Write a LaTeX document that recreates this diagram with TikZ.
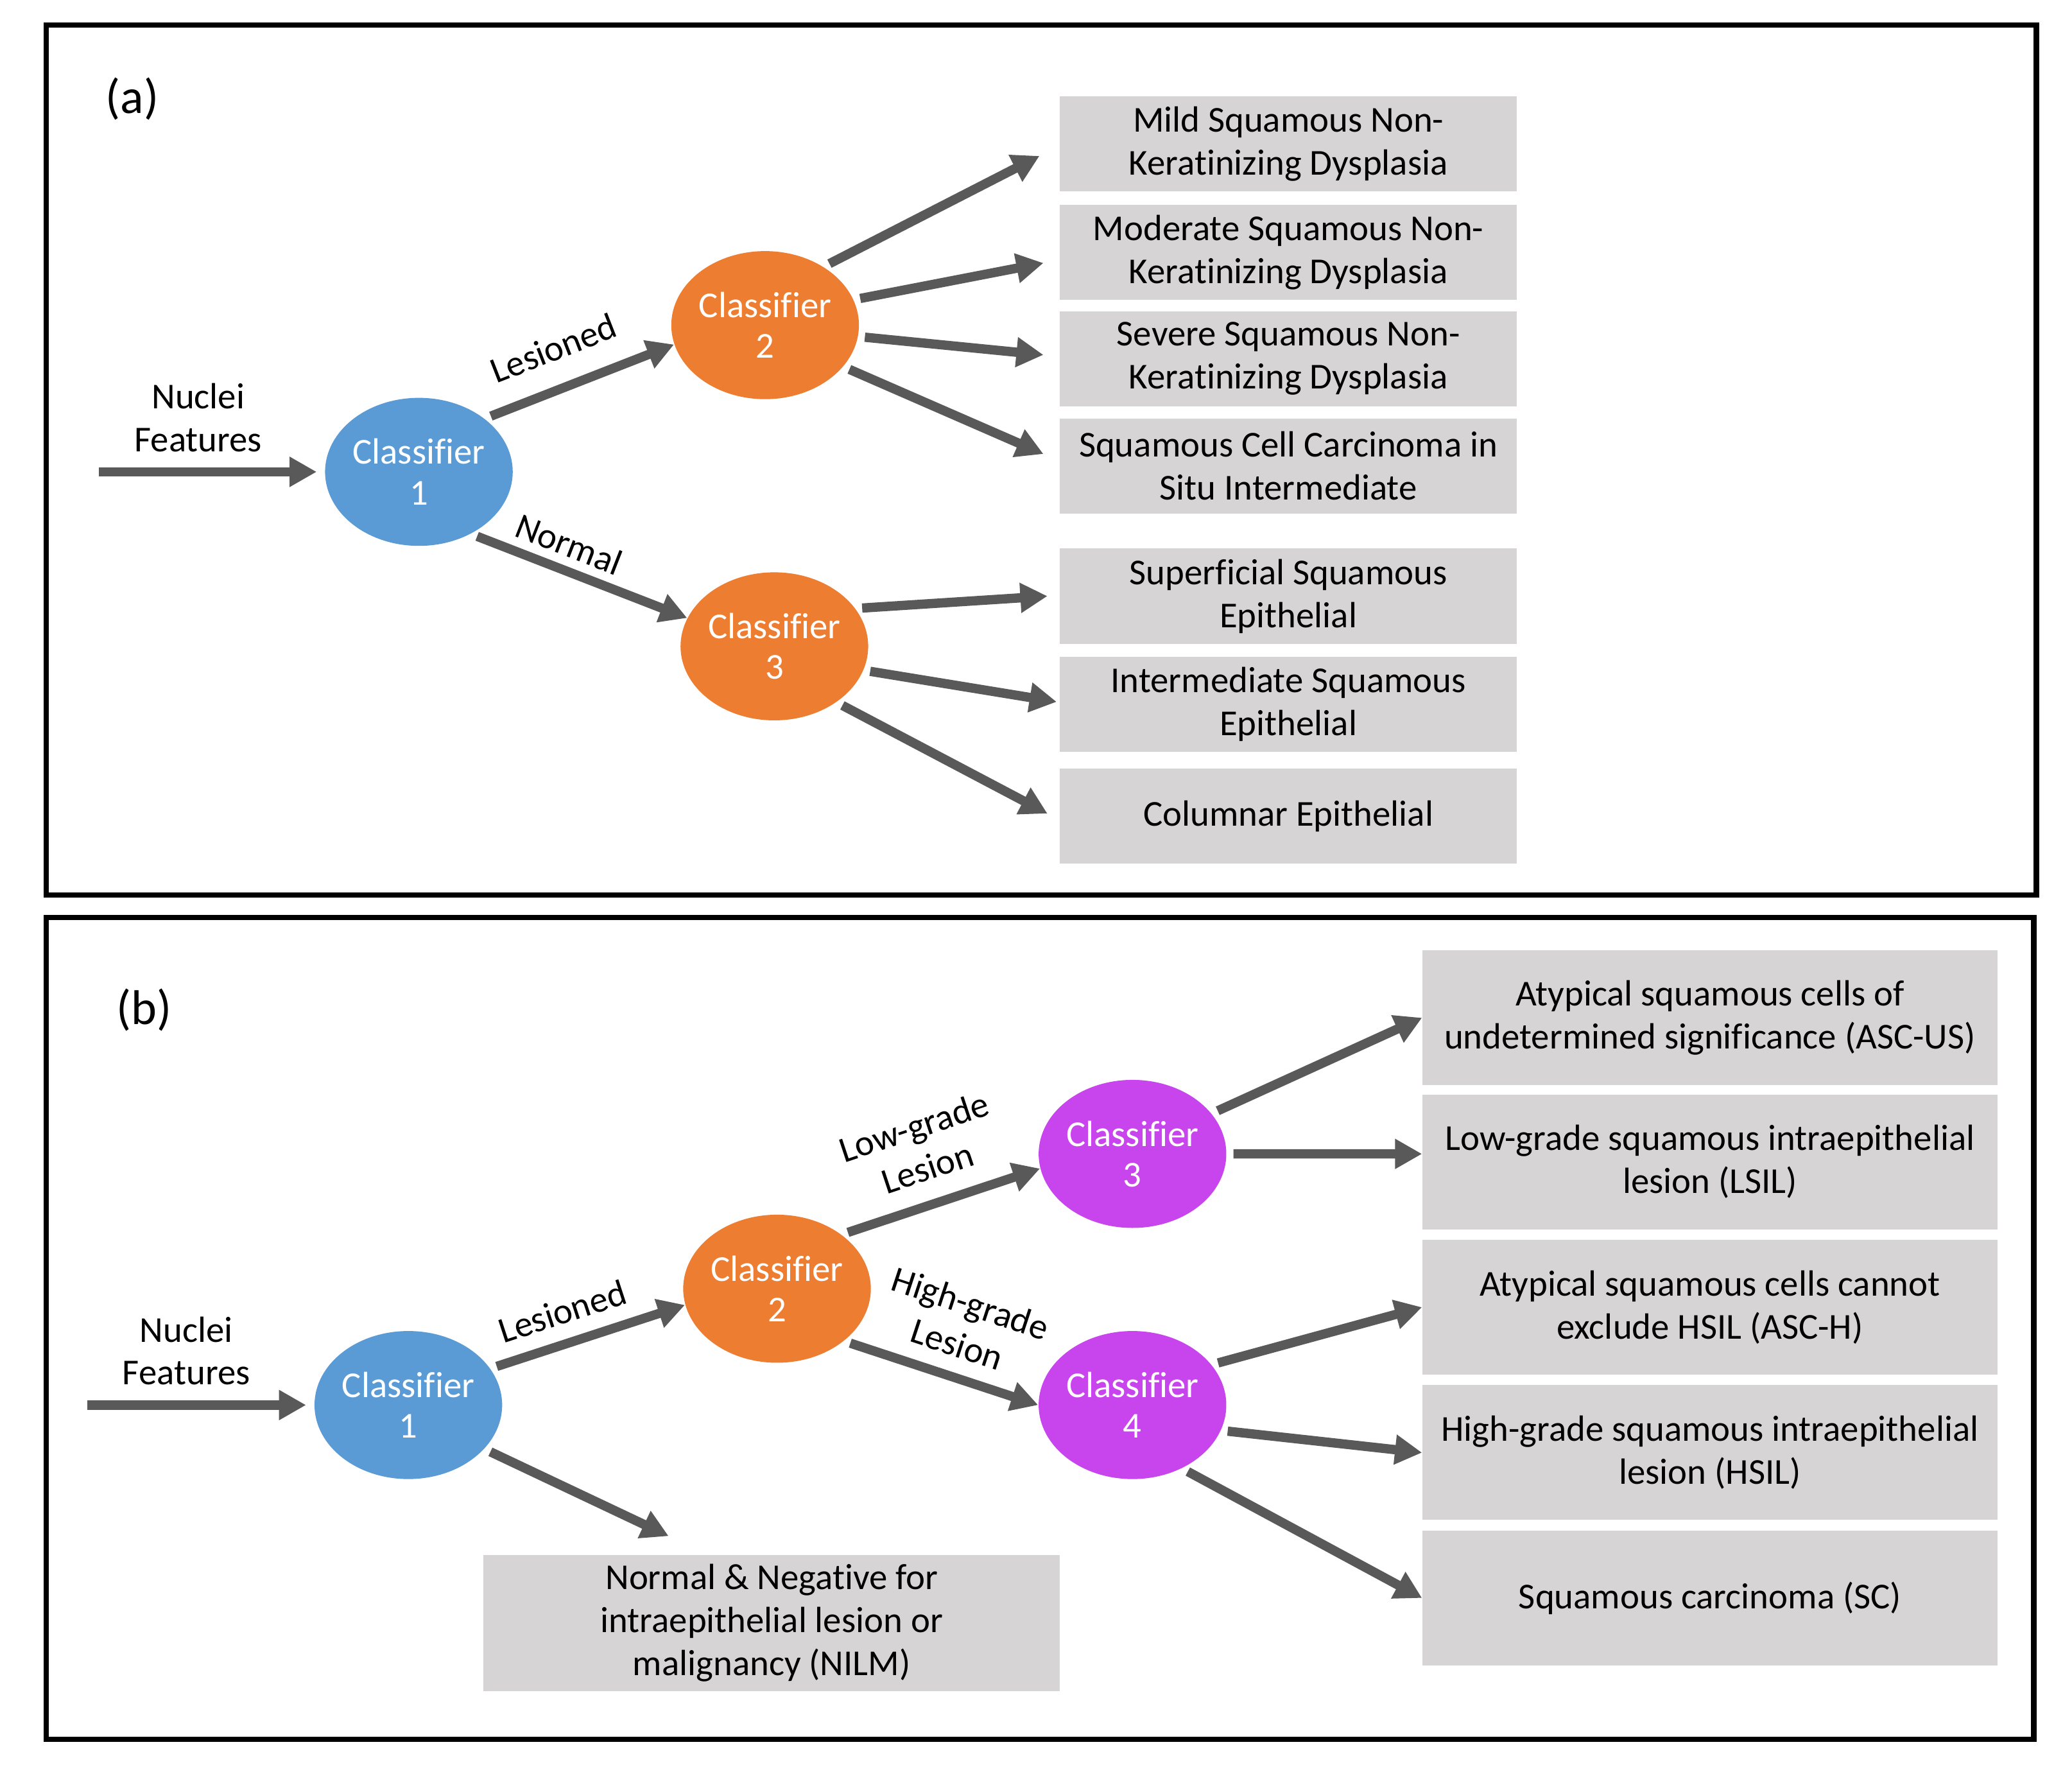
\documentclass[tikz,border=0pt]{standalone}
\usepackage{fontspec}
\setmainfont[Ligatures=NoCommon]{Carlito}
\usetikzlibrary{arrows.meta,positioning,shapes.geometric}
\definecolor{cblue}{RGB}{91,155,213}
\definecolor{corange}{RGB}{237,125,49}
\definecolor{cpurple}{RGB}{200,68,236}
\definecolor{cbox}{RGB}{214,212,213}
\definecolor{carrow}{RGB}{89,89,89}
\newcommand{\txtsize}{\fontsize{15.7}{18.5}\selectfont}
\tikzset{
  cls/.style={ellipse, minimum width=2.84cm, minimum height=2.24cm, inner sep=0pt,
    text=white, align=center, font=\fontsize{15.7}{17.5}\selectfont},
  obox/.style={rectangle, fill=cbox, minimum width=6.92cm, minimum height=1.44cm,
    inner sep=0pt, align=center, font=\txtsize},
  wbox/.style={obox, minimum width=8.70cm, minimum height=2.04cm},
  flow/.style={-{Triangle[length=0.41cm,width=0.43cm]}, carrow, line width=4pt,
    shorten <=0.1cm},
  elab/.style={font=\txtsize, text=black, inner sep=0pt, sloped, align=center, above},
  feat/.style={font=\txtsize, align=center},
  ptag/.style={font=\fontsize{21}{24}\selectfont},
  frm/.style={draw=black, line width=2.3pt},
}
\begin{document}
\begin{tikzpicture}
\useasboundingbox (0,0) rectangle (31.36,26.70);
% panel (a)
\draw[frm] (0.70,13.16) rectangle (30.82,26.32);
\node[ptag] (taga) at (2.00,25.20) {(a)};
\node[feat] (feata) at (3.00,20.38) {Nuclei\\Features};
\coordinate (ina) at (1.50,19.56);
\node[cls, fill=cblue] (a1) at (6.34,19.56) {Classifier\\1};
\node[cls, fill=corange] (a2) at (11.58,21.78) {Classifier\\2};
\node[cls, fill=corange] (a3) at (11.72,16.92) {Classifier\\3};
\foreach \nm/\y/\txt in {m1/24.52/{Mild Squamous Non-\\Keratinizing Dysplasia},
    m2/22.88/{Moderate Squamous Non-\\Keratinizing Dysplasia},
    m3/21.27/{Severe Squamous Non-\\Keratinizing Dysplasia},
    m4/19.65/{Squamous Cell Carcinoma in\\Situ Intermediate},
    m5/17.68/{Superficial Squamous\\Epithelial},
    m6/16.04/{Intermediate Squamous\\Epithelial},
    m7/14.35/{Columnar Epithelial}}{
  \node[obox] (\nm) at (19.50,\y) {\txt};}
\draw[flow, shorten <=0pt, shorten >=0.12cm] (ina) -- (a1.west);
\draw[flow] (a1.39) -- (a2.192) node[elab, pos=0.44, outer ysep=0.42cm] {Lesioned};
\draw[flow] (a1.310) -- (a3.162) node[elab, pos=0.41, outer ysep=0.2cm] {Normal};
\foreach \an/\nm/\dx/\dy in {45/m1/-0.30/-0.18, 16/m2/-0.24/-0.16,
    353/m3/-0.24/0.06, 332/m4/-0.24/0.18}{
  \draw[flow] (a2.\an) -- ([shift={(\dx,\dy)}]\nm.west);}
\foreach \an/\nm/\dx/\dy in {25/m5/-0.18/0, 345/m6/-0.04/0.04, 318/m7/-0.18/0.04}{
  \draw[flow] (a3.\an) -- ([shift={(\dx,\dy)}]\nm.west);}
% panel (b)
\draw[frm] (0.70,0.38) rectangle (30.78,12.82);
\node[ptag] (tagb) at (2.18,11.42) {(b)};
\node[feat] (featb) at (2.82,6.26) {Nuclei\\Features};
\coordinate (inb) at (1.32,5.44);
\node[cls, fill=cblue] (b1c) at (6.18,5.44) {Classifier\\1};
\node[cls, fill=corange] (b2c) at (11.76,7.20) {Classifier\\2};
\node[cls, fill=cpurple] (b3c) at (17.14,9.24) {Classifier\\3};
\node[cls, fill=cpurple] (b4c) at (17.14,5.44) {Classifier\\4};
\foreach \nm/\y/\txt in {r1/11.30/{Atypical squamous cells of\\undetermined significance (ASC-US)},
    r2/9.12/{Low-grade squamous intraepithelial\\lesion (LSIL)},
    r3/6.92/{Atypical squamous cells cannot\\exclude HSIL (ASC-H)},
    r4/4.72/{High-grade squamous intraepithelial\\lesion (HSIL)},
    r5/2.52/{Squamous carcinoma (SC)}}{
  \node[wbox] (\nm) at (25.88,\y) {\txt};}
\node[wbox, minimum width=8.72cm, minimum height=2.06cm] (nilm) at (11.68,2.14)
  {Normal \& Negative for\\intraepithelial lesion or\\malignancy (NILM)};
\draw[flow, shorten <=0pt, shorten >=0.12cm] (inb) -- (b1c.west);
\draw[flow] (b1c.24) -- (b2c.190) node[elab, pos=0.42, outer ysep=0.29cm] {Lesioned};
\draw[flow] (b2c.40) -- (b3c.189) node[elab, pos=0.49, outer ysep=0.36cm] {Low-grade\\Lesion};
\draw[flow] (b2c.322) -- (b4c.180) node[elab, pos=0.53, outer ysep=0.30cm] {High-grade\\Lesion};
\draw[flow] (b1c.330) -- ([shift={(-1.56,0.28)}]nilm.north);
\draw[flow] (b3c.27) -- (r1.west);
\draw[flow] (b3c.0) -- ([yshift=0.12cm]r2.west);
\foreach \an/\nm in {27/r3, 344/r4, 308/r5}{
  \draw[flow] (b4c.\an) -- (\nm.west);}
\end{tikzpicture}
\end{document}
